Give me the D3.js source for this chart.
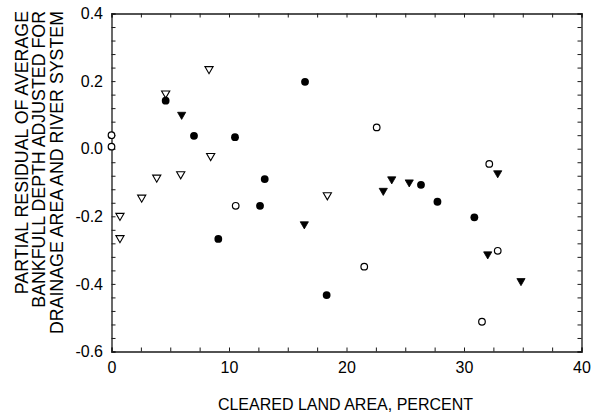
<!DOCTYPE html>
<html>
<head>
<meta charset="utf-8">
<script src="https://cdn.jsdelivr.net/npm/d3@7"></script>
<style>
  html, body { margin: 0; padding: 0; background: #fff; }
  svg { display: block; font-family: "Liberation Sans", Arial, sans-serif; }
</style>
</head>
<body>
<svg id="chart" width="592" height="413"></svg>
<script>
// Cleared land area (percent) vs. partial residual of bankfull depth
const filledCircleX = [4.61, 7.02, 10.51, 16.47, 13.04, 12.64, 9.09, 18.31, 26.34, 27.74, 30.88];
const filledCircleY = [0.142, 0.038, 0.034, 0.198, -0.090, -0.169, -0.267, -0.433, -0.107, -0.157, -0.203];

const openCircleX = [0, 0, 10.57, 22.57, 32.15, 21.51, 32.87, 31.53];
const openCircleY = [0.040, 0.006, -0.169, 0.063, -0.045, -0.349, -0.302, -0.512];

const openTriangleX = [4.61, 8.30, 8.44, 3.85, 5.89, 2.57, 0.72, 0.72, 18.37];
const openTriangleY = [0.161, 0.233, -0.024, -0.088, -0.078, -0.147, -0.201, -0.267, -0.140];

const filledTriangleX = [5.97, 16.41, 32.87, 23.13, 23.85, 25.34, 32.02, 34.85];
const filledTriangleY = [0.098, -0.226, -0.075, -0.127, -0.093, -0.102, -0.315, -0.394];

const xTickValues = [0, 10, 20, 30, 40];
const xTickLabels = ["0", "10", "20", "30", "40"];
const yTickValues = [-0.6, -0.4, -0.2, 0.0, 0.2, 0.4];
const yTickLabels = ["-0.6", "-0.4", "-0.2", "0.0", "0.2", "0.4"];

const xTitle = "CLEARED LAND AREA, PERCENT";
const yTitleLines = [
  "PARTIAL RESIDUAL OF AVERAGE",
  "BANKFULL DEPTH ADJUSTED FOR",
  "DRAINAGE AREA AND RIVER SYSTEM"
];

const margin = { left: 111.5, right: 10.5, top: 13.5, bottom: 61.5 };
const W = 592, H = 413;
const iw = W - margin.left - margin.right;
const ih = H - margin.top - margin.bottom;

const svg = d3.select("#chart");
const g = svg.append("g").attr("transform", `translate(${margin.left},${margin.top})`);

const x = d3.scaleLinear().domain([0, 40]).range([0, iw]);
const y = d3.scaleLinear().domain([-0.6, 0.4]).range([ih, 0]);

// minor ticks: every 2.5 on x, every 0.04 on y
const xMinor = d3.range(0, 17).map(i => i * 2.5);
const yMinor = d3.range(0, 26).map(i => +(-0.6 + i * 0.04).toFixed(2));

const ink = "#1a1a1a";
const tickLen = 4;

function xLabel(d) {
  const i = xTickValues.findIndex(v => Math.abs(v - d) < 1e-9);
  return i >= 0 ? xTickLabels[i] : "";
}
function yLabel(d) {
  const i = yTickValues.findIndex(v => Math.abs(v - d) < 1e-9);
  return i >= 0 ? yTickLabels[i] : "";
}

const axBottom = g.append("g").attr("transform", `translate(0,${ih})`)
  .call(d3.axisBottom(x).tickValues(xMinor).tickSize(-tickLen).tickPadding(10).tickFormat(xLabel));
const axTop = g.append("g")
  .call(d3.axisTop(x).tickValues(xMinor).tickSize(-tickLen).tickFormat(""));
const axLeft = g.append("g")
  .call(d3.axisLeft(y).tickValues(yMinor).tickSize(-tickLen).tickPadding(8.5).tickFormat(yLabel));
const axRight = g.append("g").attr("transform", `translate(${iw},0)`)
  .call(d3.axisRight(y).tickValues(yMinor).tickSize(-tickLen).tickFormat(""));

[axBottom, axTop, axLeft, axRight].forEach(a => {
  a.select(".domain").attr("stroke", ink).attr("stroke-width", 1.3);
  a.selectAll(".tick line").attr("stroke", ink).attr("stroke-width", 1);
  a.selectAll(".tick text").attr("fill", "#000").style("font-size", "16px")
    .style("font-family", "'Liberation Sans', Arial, sans-serif");
});

// axis titles
svg.append("text")
  .attr("x", margin.left + iw / 2 - 1)
  .attr("y", 409.5)
  .attr("text-anchor", "middle")
  .style("font-size", "16px")
  .attr("fill", "#000")
  .text(xTitle);

const yTitle = svg.append("g").attr("transform", "translate(0,11) rotate(-90)");
yTitleLines.forEach((line, i) => {
  yTitle.append("text")
    .attr("x", 0)
    .attr("y", 27.5 + i * 17.5)
    .attr("text-anchor", "end")
    .style("font-size", "17.8px")
    .attr("fill", "#000")
    .text(line);
});

// markers
const plot = g.append("g");
const tri = "M-4.1,-3.3 L4.1,-3.3 L0,3.8 Z";

plot.selectAll(".oc").data(d3.zip(openCircleX, openCircleY)).join("circle")
  .attr("cx", d => x(d[0])).attr("cy", d => y(d[1])).attr("r", 3.3)
  .attr("fill", "#fff").attr("stroke", "#000").attr("stroke-width", 1.2);

plot.selectAll(".ot").data(d3.zip(openTriangleX, openTriangleY)).join("path")
  .attr("transform", d => `translate(${x(d[0])},${y(d[1])})`)
  .attr("d", tri)
  .attr("fill", "#fff").attr("stroke", "#000").attr("stroke-width", 1.1);

plot.selectAll(".fc").data(d3.zip(filledCircleX, filledCircleY)).join("circle")
  .attr("cx", d => x(d[0])).attr("cy", d => y(d[1])).attr("r", 3.9)
  .attr("fill", "#000");

plot.selectAll(".ft").data(d3.zip(filledTriangleX, filledTriangleY)).join("path")
  .attr("transform", d => `translate(${x(d[0])},${y(d[1])})`)
  .attr("d", tri)
  .attr("fill", "#000").attr("stroke", "#000").attr("stroke-width", 0.8);
</script>
</body>
</html>
